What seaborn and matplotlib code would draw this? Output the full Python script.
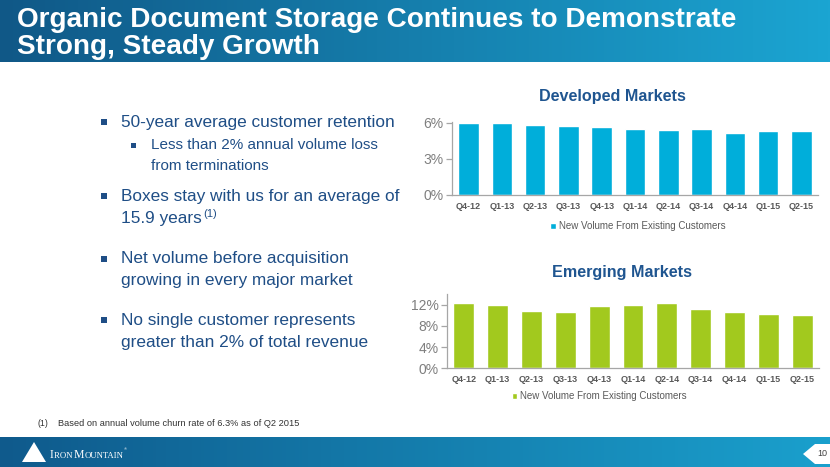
import numpy as np
import pandas as pd
import matplotlib
matplotlib.use("Agg")
import matplotlib.pyplot as plt
import seaborn as sns
from matplotlib.patches import Polygon, Rectangle

# ---------------- data ----------------
quarters = ["Q4-12", "Q1-13", "Q2-13", "Q3-13", "Q4-13", "Q1-14",
            "Q2-14", "Q3-14", "Q4-14", "Q1-15", "Q2-15"]
developed = [6.0, 6.0, 5.86, 5.75, 5.67, 5.47, 5.39, 5.47, 5.2, 5.3, 5.3]
emerging = [12.3, 12.0, 10.87, 10.67, 11.69, 11.94, 12.25, 11.24, 10.55, 10.17, 10.04]
dev_ticks = [0, 3, 6]
emg_ticks = [0, 4, 8, 12]
series_label = "New Volume From Existing Customers"
title_lines = ["Organic Document Storage Continues to Demonstrate",
               "Strong, Steady Growth"]
footnote = "Based on annual volume churn rate of 6.3% as of Q2 2015"

# ---------------- style ----------------
sns.set_theme(style="white")
plt.rcParams["font.family"] = ["Liberation Sans", "DejaVu Sans"]

W, H = 830, 467
fig = plt.figure(figsize=(W / 100, H / 100), dpi=100)
fig.patch.set_facecolor("white")

bg = fig.add_axes([0, 0, 1, 1])
bg.axis("off")


def gradient(c1, c2, n=256):
    t = np.linspace(0, 1, n)[None, :, None]
    c1 = np.array(c1)[None, None, :] / 255
    c2 = np.array(c2)[None, None, :] / 255
    return c1 + (c2 - c1) * t


bg.imshow(gradient((16, 88, 135), (27, 165, 210)), extent=[0, W, 62, 0], aspect="auto", zorder=0)
bg.imshow(gradient((15, 90, 140), (26, 160, 205)), extent=[0, W, H, 437], aspect="auto", zorder=0)
bg.set_xlim(0, W)
bg.set_ylim(H, 0)

fig.canvas.draw()
R = fig.canvas.get_renderer()


def width_px(t):
    return t.get_window_extent(renderer=R).width


def fit_text(x, y, s, target, size0, **kw):
    t = bg.text(x, y, s, fontsize=size0, **kw)
    w = width_px(t)
    t.set_fontsize(size0 * target / w)
    return t


# title
t1 = fit_text(17, 20, title_lines[0], 718, 18, color="white", fontweight="bold",
              va="center", ha="left")
bg.text(17, 47, title_lines[1], color="white", fontsize=t1.get_fontsize(), fontweight="bold",
        va="center", ha="left")

# bullets
TXT = "#1F4E86"
rows = [
    (121, 122, "50-year average customer retention", 12.4, "main"),
    (151, 145, "Less than 2% annual volume loss", 11, "sub"),
    (151, 166, "from terminations", 11, None),
    (121, 196, "Boxes stay with us for an average of", 12.4, "main"),
    (121, 219, "15.9 years", 12.4, None),
    (121, 259, "Net volume before acquisition", 12.4, "main"),
    (121, 281, "growing in every major market", 12.4, None),
    (121, 320, "No single customer represents", 12.4, "main"),
    (121, 342, "greater than 2% of total revenue", 12.4, None),
]
sup_anchor = None
for x, y, s, fs, kind in rows:
    t = bg.text(x, y, s, color=TXT, fontsize=fs, va="center", ha="left")
    if s == "15.9 years":
        sup_anchor = t
    if kind == "main":
        bg.add_patch(Rectangle((101, y - 3), 6, 6, color=TXT, lw=0))
    elif kind == "sub":
        bg.add_patch(Rectangle((131, y - 2.5), 5, 5, color=TXT, lw=0))

bb = sup_anchor.get_window_extent(renderer=R)
xr = bg.transData.inverted().transform((bb.x1, bb.y1))
bg.text(xr[0] + 1, 219 - 5, "(1)", color=TXT, fontsize=8, va="center", ha="left")

# footnote
bg.text(37, 423.5, "(1)", color="#333333", fontsize=6.3, va="center")
fit_text(58, 423.5, footnote, 241, 6.5, color="#333333", va="center")

# footer logo (small caps) and page number
bg.add_patch(Polygon([(22, 462), (34, 442), (46, 462)], closed=True, color="white", lw=0))
xpos = 50
serif = ["Liberation Serif", "DejaVu Serif"]
for piece, fs in [("I", 8.5), ("RON\u2009", 6.3), ("M", 8.5), ("OUNTAIN", 6.3)]:
    t = bg.text(xpos, 458, piece, color="white", fontsize=fs, family=serif,
                va="baseline", ha="left")
    xpos += width_px(t)
bg.text(xpos + 0.5, 449, "®", color="white", fontsize=3, va="center", ha="left")
bg.add_patch(Polygon([(803, 454), (815, 444), (830, 444), (830, 464), (815, 464)],
                     closed=True, color="white", lw=0))
bg.text(822, 454, "10", color="#404040", fontsize=6.5, va="center", ha="center")

# ---------------- charts ----------------
TITLE_C = "#1F5590"
SPINE = "#A6A6A6"
TICKLBL = "#7F7F7F"


def px_axes(x0, x1, ytop, ybot):
    return fig.add_axes([x0 / W, 1 - ybot / H, (x1 - x0) / W, (ybot - ytop) / H])


def draw(ax, values, color, ticks, ymax, leg_anchor):
    df = pd.DataFrame({"quarter": quarters, "value": values})
    sns.barplot(data=df, x="quarter", y="value", color=color, saturation=1,
                width=0.62, ax=ax, label=series_label)
    ax.set_facecolor("none")
    ax.set_xlim(-0.5, len(quarters) - 0.5)
    ax.set_ylim(0, ymax)
    ax.set_yticks(ticks)
    ax.set_yticklabels([f"{t}%" for t in ticks], color=TICKLBL, fontsize=10)
    ax.set_xlabel("")
    ax.set_ylabel("")
    for side in ("top", "right"):
        ax.spines[side].set_visible(False)
    for side in ("left", "bottom"):
        ax.spines[side].set_color(SPINE)
        ax.spines[side].set_linewidth(0.9)
    ax.tick_params(axis="x", length=0, pad=5, labelsize=6.5, labelcolor="#595959")
    for lab in ax.get_xticklabels():
        lab.set_fontweight("bold")
    ax.set_xticks(np.arange(-0.5, len(quarters)), minor=True)
    ax.tick_params(axis="x", which="minor", length=4, color=SPINE, direction="out", width=0.9)
    ax.tick_params(axis="y", length=4, color=SPINE, direction="out", width=0.9, pad=2, left=True)
    ax.grid(False)
    ax.legend(loc="center", bbox_to_anchor=leg_anchor, frameon=False, fontsize=7,
              handlelength=0.55, handleheight=0.55, handletextpad=0.3,
              labelcolor="#595959", borderpad=0, borderaxespad=0)


ax1 = px_axes(452, 818, 122.3, 195)
draw(ax1, developed, "#00AEDA", dev_ticks, 6.05, (0.508, -0.43))
fig.text(612 / W, 1 - 96 / H, "Developed Markets", color=TITLE_C, fontsize=11.6,
         fontweight="bold", ha="center", va="center")

ax2 = px_axes(447, 819, 294, 368.3)
draw(ax2, emerging, "#A2C91E", emg_ticks, 14, (0.41, -0.373))
fig.text(622 / W, 1 - 273 / H, "Emerging Markets", color=TITLE_C, fontsize=11.6,
         fontweight="bold", ha="center", va="center")

fig.savefig("out.png", dpi=100)
